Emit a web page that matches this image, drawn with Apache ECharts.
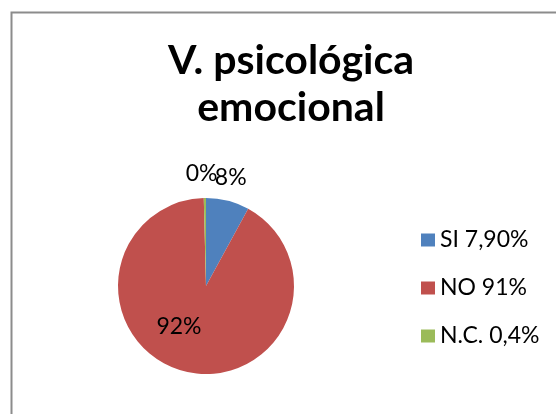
<!DOCTYPE html>
<html>
	<head>
		<title>V. psicológica emocional</title>
		<meta http-equiv="content-type" content="text/html; charset=UTF-8">
		<script src="https://cdn.jsdelivr.net/npm/echarts@6/dist/echarts.min.js"></script>
		<style>
			html {height: 100%; width: 100%;}
			body {height: 100%; width: 100%; margin:0px; background:#fff;}
		</style>
		<script>
			const titleLines = ['V. psicológica', 'emocional'];
			const categories = ['SI 7,90%', 'NO 91%', 'N.C. 0,4%'];
			const values = [7.9, 91, 0.4];
			const colors = ['#4F81BD', '#C0504D', '#9BBB59'];
			const labelPlaces = ['outside', 'inside', 'outside'];

			let chart;
			function onload() {
				chart = echarts.init(document.getElementById('container'));
				const data = categories.map(function (name, i) {
					return {
						name: name,
						value: values[i],
						itemStyle: {color: colors[i]},
						label: {position: labelPlaces[i]}
					};
				});
				// excel puts its labels a bit off the slice bisector
				const nudge = [[-8, 0], [-16, -5], [2, 0]];
				let option = {
					animation: false,
					graphic: [{
						type: 'rect',
						left: 9, top: 10,
						shape: {width: 600, height: 500},
						style: {fill: 'none', stroke: '#8c8c8c', lineWidth: 2}
					}],
					title: {
						text: titleLines.join('\n'),
						left: 286, top: 32,
						textAlign: 'center',
						textStyle: {
							fontFamily: 'Lato', fontWeight: 'bold',
							fontSize: 41, lineHeight: 47, color: '#000'
						}
					},
					legend: {
						orient: 'vertical',
						left: 416, top: 222,
						itemWidth: 14, itemHeight: 13, itemGap: 22,
						icon: 'rect',
						textStyle: {fontFamily: 'Lato', fontSize: 23, lineHeight: 26, color: '#000'},
						data: categories
					},
					series: [{
						type: 'pie',
						center: [206, 286],
						radius: 88,
						startAngle: 90,
						avoidLabelOverlap: false,
						label: {
							fontFamily: 'Lato', fontSize: 23, color: '#000',
							formatter: function (p) { return Math.round(p.percent) + '%'; }
						},
						labelLine: {show: false, length: 24, length2: 0},
						labelLayout: function (p) {
							return {align: 'center', dx: nudge[p.dataIndex][0], dy: nudge[p.dataIndex][1]};
						},
						emphasis: {disabled: true},
						data: data
					}]
				};
				chart.setOption(option);
			}
		</script>
	</head>
	<body onload="onload()">
		<div id="container" style="width:556px;height:414px;"></div>
	</body>
</html>
